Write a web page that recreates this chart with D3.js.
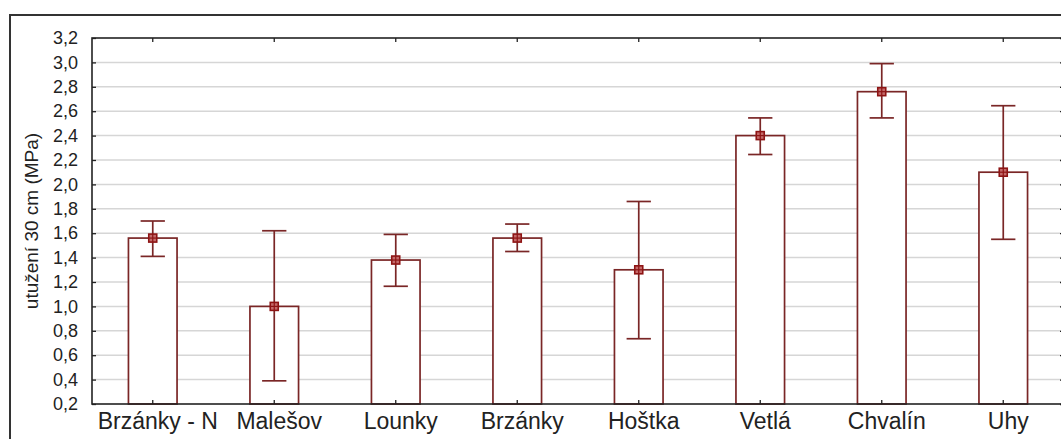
<!DOCTYPE html>
<html>
<head>
<meta charset="utf-8">
<script src="https://cdn.jsdelivr.net/npm/d3@7"></script>
<style>
  html, body { margin: 0; padding: 0; background: #fff; }
  svg { display: block; }
  text { font-family: "Liberation Sans", Arial, sans-serif; fill: #222; }
</style>
</head>
<body>
<svg id="chart" width="1061" height="439"></svg>
<script>
const categories = ["Brzánky - N", "Malešov", "Lounky", "Brzánky", "Hoštka", "Vetlá", "Chvalín", "Uhy"];
const means = [1.56, 1.00, 1.38, 1.56, 1.30, 2.40, 2.76, 2.10];
const upper = [1.70, 1.62, 1.59, 1.675, 1.86, 2.545, 2.99, 2.645];
const lower = [1.41, 0.39, 1.165, 1.45, 0.735, 2.245, 2.545, 1.55];
const yTicks = [0.2, 0.4, 0.6, 0.8, 1.0, 1.2, 1.4, 1.6, 1.8, 2.0, 2.2, 2.4, 2.6, 2.8, 3.0, 3.2];
const yLabel = "utužení 30 cm (MPa)";

(function () {
const svg = d3.select("#chart");
const pl = 92, pr = 1064, pt = 38, pb = 404;
const barColor = "#7a2626";

const x = d3.scaleBand().domain(categories).range([pl, pr]).padding(0);
const y = d3.scaleLinear().domain([0.2, 3.2]).range([pb, pt]);
const fmt = d => d.toFixed(1).replace(".", ",");

// outer frame
svg.append("rect").attr("x", 10).attr("y", 15).attr("width", 1100).attr("height", 500)
  .attr("fill", "none").attr("stroke", "#333").attr("stroke-width", 2);

// gridlines
svg.append("g").selectAll("line").data(yTicks.filter(t => t > 0.2 && t < 3.2)).join("line")
  .attr("x1", pl).attr("x2", pr)
  .attr("y1", d => y(d)).attr("y2", d => y(d))
  .attr("stroke", "#d6d6d6").attr("stroke-width", 1.5);

// bars
const bw = x.bandwidth() * 0.4;
svg.append("g").selectAll("rect").data(categories).join("rect")
  .attr("x", d => x(d) + x.bandwidth() / 2 - bw / 2)
  .attr("y", (d, i) => y(means[i]))
  .attr("width", bw)
  .attr("height", (d, i) => pb - y(means[i]))
  .attr("fill", "#fff").attr("stroke", barColor).attr("stroke-width", 1.7);

// error bars
const cap = x.bandwidth() * 0.2;
const eg = svg.append("g").attr("stroke", barColor).attr("stroke-width", 1.7);
categories.forEach((c, i) => {
  const cx = x(c) + x.bandwidth() / 2;
  eg.append("line").attr("x1", cx).attr("x2", cx).attr("y1", y(upper[i])).attr("y2", y(lower[i]));
  eg.append("line").attr("x1", cx - cap / 2).attr("x2", cx + cap / 2).attr("y1", y(upper[i])).attr("y2", y(upper[i]));
  eg.append("line").attr("x1", cx - cap / 2).attr("x2", cx + cap / 2).attr("y1", y(lower[i])).attr("y2", y(lower[i]));
});

// markers
const ms = 8;
const mg = svg.append("g");
categories.forEach((c, i) => {
  const cx = x(c) + x.bandwidth() / 2, cy = y(means[i]);
  mg.append("rect").attr("x", cx - ms / 2).attr("y", cy - ms / 2).attr("width", ms).attr("height", ms)
    .attr("fill", "#c46a6a").attr("stroke", "#8e1414").attr("stroke-width", 1.6);
  mg.append("line").attr("x1", cx - ms / 2).attr("x2", cx + ms / 2).attr("y1", cy).attr("y2", cy)
    .attr("stroke", "#8e1414").attr("stroke-width", 1.2);
  mg.append("line").attr("x1", cx).attr("x2", cx).attr("y1", cy - ms / 2).attr("y2", cy + ms / 2)
    .attr("stroke", "#8e1414").attr("stroke-width", 1.2);
});

// plot frame
svg.append("rect").attr("x", pl).attr("y", pt).attr("width", pr - pl).attr("height", pb - pt)
  .attr("fill", "none").attr("stroke", "#222").attr("stroke-width", 1.6);

// axes
const yAxisL = d3.axisLeft(y).tickValues(yTicks).tickFormat(fmt).tickSizeInner(-4).tickSizeOuter(0).tickPadding(14);
const gyl = svg.append("g").attr("transform", `translate(${pl},0)`).call(yAxisL);
gyl.select(".domain").remove();
gyl.selectAll(".tick line").attr("stroke", "#222").attr("stroke-width", 1.3);
gyl.selectAll("text").style("font-size", "18px").attr("fill", "#333");

const yAxisR = d3.axisRight(y).tickValues(yTicks).tickSizeInner(-4).tickSizeOuter(0).tickFormat("");
const gyr = svg.append("g").attr("transform", `translate(${pr},0)`).call(yAxisR);
gyr.select(".domain").remove();
gyr.selectAll(".tick line").attr("stroke", "#222").attr("stroke-width", 1.3);

const xAxisB = d3.axisBottom(x).tickSizeInner(-4).tickSizeOuter(0).tickPadding(9);
const gxb = svg.append("g").attr("transform", `translate(0,${pb})`).call(xAxisB);
gxb.select(".domain").remove();
gxb.selectAll(".tick line").attr("stroke", "#222").attr("stroke-width", 1.3);
gxb.selectAll("text").style("font-size", "23px").attr("fill", "#333").attr("dx", 5);

const xAxisT = d3.axisTop(x).tickSizeInner(-4).tickSizeOuter(0).tickFormat("");
const gxt = svg.append("g").attr("transform", `translate(0,${pt})`).call(xAxisT);
gxt.select(".domain").remove();
gxt.selectAll(".tick line").attr("stroke", "#222").attr("stroke-width", 1.3);

// y label
svg.append("text")
  .attr("transform", `translate(38,${(pt + pb) / 2}) rotate(-90)`)
  .attr("text-anchor", "middle")
  .style("font-size", "19px").attr("fill", "#333")
  .text(yLabel);
})();
</script>
</body>
</html>
